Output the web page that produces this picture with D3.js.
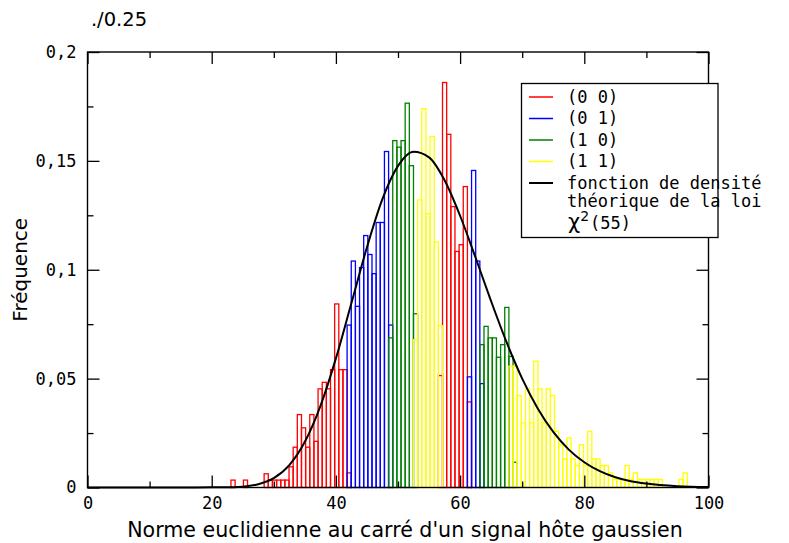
<!DOCTYPE html>
<meta charset="utf-8">
<script src="https://d3js.org/d3.v7.min.js"></script>
<style>
  body { margin: 0; background: #fff; }
  .mono { font-family: "DejaVu Sans Mono", monospace; font-size: 17px; }
  .sans { font-family: "DejaVu Sans", sans-serif; }
</style>
<body></body>
<script>

// histogram bins: all series share one grid of bins
var binStart = 23.1,
    binWidth = 0.668;

// series (0 0) : red
var redFrom1 = 0;
var redBars1 = [0.0034, 0, 0, 0.0034, 0, 0, 0, 0, 0.0063, 0.0034, 0.0034, 0.0034, 0.0034, 0.0034,
                0.0095, 0.0185, 0.0335, 0.0274, 0.0185, 0.0335, 0.0212, 0.0453, 0.0483, 0.0453,
                0.0541, 0.0843, 0.0541, 0.0541, 0.0067];
var redFrom2 = 50;
var redBars2 = [0.0514, 0.186, 0.1622, 0.129, 0.1084, 0.1115, 0.1382, 0.0393];

// series (0 1) : blue
var blueFrom1 = 28;
var blueBars1 = [0.0746, 0.104, 0.0832, 0.101, 0.1157, 0.107, 0.0982, 0.1217, 0.1217, 0.1543, 0.0746];
var blueFrom2 = 57;
var blueBars2 = [0.0508, 0.1456, 0.104, 0.0477];

// series (1 0) : green
var greenFrom1 = 38;
var greenBars1 = [0.0687, 0.1593, 0.1563, 0.1593, 0.1765, 0.1478, 0.0798];
var greenFrom2 = 60;
var greenBars2 = [0.0656, 0.074, 0.0687, 0.0687, 0.0598, 0.0656, 0.0827, 0.0602, 0.0116];

// series (1 1) : yellow
var yellowFrom1 = 44;
var yellowBars1 = [0.0679, 0.1321, 0.174, 0.1257, 0.1612, 0.1127, 0.0743];
var yellowFrom2 = 67;
var yellowBars2 = [0.0557, 0.0557, 0.0422, 0.0297, 0.0453, 0.0297, 0.058, 0.0453, 0.0297, 0.0453,
                   0.0422, 0.0258, 0.0197, 0.0131, 0.0228, 0.0131, 0.0101, 0.0197, 0.0101, 0.0258,
                   0.0131, 0.0131, 0.0101, 0.0101, 0.0067, 0.0037, 0.0037, 0.0037, 0.0101, 0.0037,
                   0.0067, 0.0037, 0.0037, 0.0037, 0.0037, 0.0037, 0.0037, 0, 0, 0, 0, 0.0037, 0.0067];

// theoretical density curve
var curveX = [0, 15, 20, 22, 25, 27.5, 30, 32.5, 35, 37.5, 40, 42.5, 45, 47.5, 50, 52.5, 55, 57.5,
              60, 62.5, 65, 67.5, 70, 72.5, 75, 77.5, 80, 82.5, 85, 87.5, 90, 95, 100];
var curveY = [0, 0, 0.0001, 0.0001, 0.0004, 0.0015, 0.0043, 0.0103, 0.021, 0.0374, 0.0593, 0.0847,
              0.1103, 0.1325, 0.1477, 0.1542, 0.1516, 0.1411, 0.1248, 0.1055, 0.0855, 0.0666,
              0.05, 0.0363, 0.0255, 0.0174, 0.0116, 0.0075, 0.0047, 0.0029, 0.0018, 0.0006, 0.0002];

var xTicks = [0, 20, 40, 60, 80, 100];
var xMinor = [10, 30, 50, 70, 90];
var yTicks = [0, 0.05, 0.1, 0.15, 0.2];
var yMinor = [0.025, 0.075, 0.125, 0.175];
var yTickLabels = ["0", "0,05", "0,1", "0,15", "0,2"];

var legendLabels = ["(0 0)", "(0 1)", "(1 0)", "(1 1)"];
var colors = ["#ff0000", "#0000ff", "#008000", "#ffff00"];

var series = [
  {color: colors[0], segs: [{from: redFrom1, h: redBars1}, {from: redFrom2, h: redBars2}]},
  {color: colors[1], segs: [{from: blueFrom1, h: blueBars1}, {from: blueFrom2, h: blueBars2}]},
  {color: colors[2], segs: [{from: greenFrom1, h: greenBars1}, {from: greenFrom2, h: greenBars2}]},
  {color: colors[3], segs: [{from: yellowFrom1, h: yellowBars1}, {from: yellowFrom2, h: yellowBars2}]}
];

var width = 789, height = 543;
var plotL = 87.5, plotR = 708.5, plotT = 52, plotB = 487.5;

var svg = d3.select("body").append("svg")
    .attr("width", width)
    .attr("height", height);

var x = d3.scaleLinear().domain([0, 100]).range([plotL, plotR]);
var y = d3.scaleLinear().domain([0, 0.2]).range([plotB, plotT]);

// bars, outlines only
series.forEach(function(s) {
  var bars = [];
  s.segs.forEach(function(seg) {
    seg.h.forEach(function(v, i) {
      if (v > 0) bars.push({lo: binStart + (seg.from + i) * binWidth, v: v});
    });
  });
  svg.append("g").selectAll("rect").data(bars).enter().append("rect")
      .attr("x", function(d) { return x(d.lo); })
      .attr("width", function(d) { return x(d.lo + binWidth) - x(d.lo); })
      .attr("y", function(d) { return y(d.v); })
      .attr("height", function(d) { return y(0) - y(d.v); })
      .attr("fill", "none")
      .attr("stroke", s.color)
      .attr("stroke-width", 1.3);
});

// density curve
var line = d3.line()
    .x(function(d, i) { return x(curveX[i]); })
    .y(function(d) { return y(d); })
    .curve(d3.curveMonotoneX);

svg.append("path")
    .attr("d", line(curveY))
    .attr("fill", "none")
    .attr("stroke", "#000")
    .attr("stroke-width", 2);

// axes: ticks on all four sides pointing in
function styleAxis(g) {
  g.select(".domain").remove();
  g.selectAll(".tick line").attr("stroke", "#000").attr("stroke-width", 1.3);
  g.selectAll("text").attr("class", "mono").attr("fill", "#000").attr("font-size", null).attr("font-family", null);
}

svg.append("g").attr("transform", "translate(0," + plotB + ")")
    .call(d3.axisBottom(x).tickValues(xTicks).tickSize(-12).tickPadding(9).tickFormat(d3.format("d")))
    .call(styleAxis);
svg.append("g").attr("transform", "translate(0," + plotB + ")")
    .call(d3.axisBottom(x).tickValues(xMinor).tickSize(-6).tickFormat(""))
    .call(styleAxis);
svg.append("g").attr("transform", "translate(0," + plotT + ")")
    .call(d3.axisTop(x).tickValues(xTicks).tickSize(-12).tickFormat(""))
    .call(styleAxis);
svg.append("g").attr("transform", "translate(0," + plotT + ")")
    .call(d3.axisTop(x).tickValues(xMinor).tickSize(-6).tickFormat(""))
    .call(styleAxis);

svg.append("g").attr("transform", "translate(" + plotL + ",0)")
    .call(d3.axisLeft(y).tickValues(yTicks).tickSize(-12).tickPadding(11)
      .tickFormat(function(d, i) { return yTickLabels[i]; }))
    .call(styleAxis);
svg.append("g").attr("transform", "translate(" + plotL + ",0)")
    .call(d3.axisLeft(y).tickValues(yMinor).tickSize(-6).tickFormat(""))
    .call(styleAxis);
svg.append("g").attr("transform", "translate(" + plotR + ",0)")
    .call(d3.axisRight(y).tickValues(yTicks).tickSize(-12).tickFormat(""))
    .call(styleAxis);
svg.append("g").attr("transform", "translate(" + plotR + ",0)")
    .call(d3.axisRight(y).tickValues(yMinor).tickSize(-6).tickFormat(""))
    .call(styleAxis);

svg.append("rect")
    .attr("x", plotL).attr("y", plotT)
    .attr("width", plotR - plotL).attr("height", plotB - plotT)
    .attr("fill", "none").attr("stroke", "#000").attr("stroke-width", 1.4);

// titles
svg.append("text").attr("class", "sans")
    .attr("x", 119).attr("y", 26)
    .attr("text-anchor", "middle").attr("font-size", "19.5px")
    .text("./0.25");

svg.append("text").attr("class", "sans")
    .attr("x", (plotL + plotR) / 2 + 7).attr("y", 537)
    .attr("text-anchor", "middle").attr("font-size", "20.6px")
    .text("Norme euclidienne au carré d'un signal hôte gaussien");

svg.append("text").attr("class", "sans")
    .attr("transform", "translate(27," + (plotT + plotB) / 2 + ") rotate(-90)")
    .attr("text-anchor", "middle").attr("font-size", "20px")
    .text("Fréquence");

// legend
var lg = svg.append("g");
lg.append("rect")
    .attr("x", 521.5).attr("y", 83.5).attr("width", 196.5).attr("height", 154)
    .attr("fill", "#fff").attr("stroke", "#000").attr("stroke-width", 1.3);

var rowY = d3.scaleLinear().domain([0, 1]).range([97, 118.5]);
legendLabels.forEach(function(lab, i) {
  lg.append("line")
      .attr("x1", 529).attr("x2", 553)
      .attr("y1", rowY(i)).attr("y2", rowY(i))
      .attr("stroke", colors[i]).attr("stroke-width", 1.5);
  lg.append("text").attr("class", "mono")
      .attr("x", 567).attr("y", rowY(i)).attr("dy", "0.35em")
      .text(lab);
});
lg.append("line")
    .attr("x1", 529).attr("x2", 553)
    .attr("y1", rowY(4)).attr("y2", rowY(4))
    .attr("stroke", "#000").attr("stroke-width", 2);
lg.append("text").attr("class", "mono")
    .attr("x", 567).attr("y", rowY(4)).attr("dy", "0.35em")
    .text("fonction de densité");
lg.append("text").attr("class", "mono")
    .attr("x", 567).attr("y", rowY(4) + 18).attr("dy", "0.35em")
    .text("théorique de la loi");
var chi = lg.append("text").attr("x", 568).attr("y", 228.5);
chi.append("tspan").attr("class", "sans").attr("font-size", "21px").text("χ");
chi.append("tspan").attr("class", "sans").attr("font-size", "14px").attr("dy", "-8").text("2");
chi.append("tspan").attr("class", "mono").attr("dy", "8").attr("dx", "1").text("(55)");

</script>
